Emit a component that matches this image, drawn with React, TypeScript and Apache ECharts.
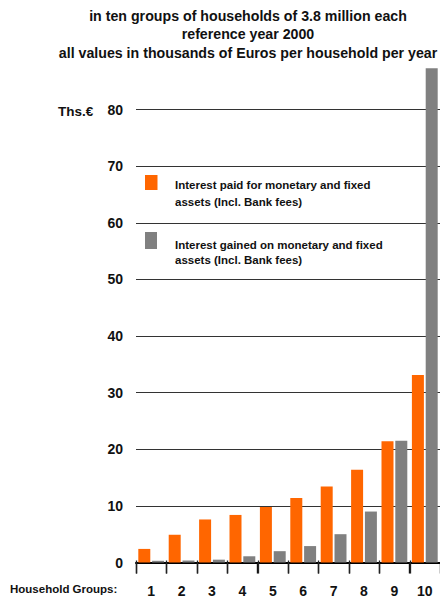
import React, { useEffect, useRef } from "react";
import * as echarts from "echarts";

const titleLines = [
  "in ten groups of households of 3.8 million each",
  "reference year 2000",
  "all values in thousands of Euros per household per year",
];
const groups = ["1", "2", "3", "4", "5", "6", "7", "8", "9", "10"];
const paidName = "Interest paid for monetary and fixed\nassets (Incl. Bank fees)";
const gainedName = "Interest gained on monetary and fixed\nassets (Incl. Bank fees)";
const interestPaid = [2.4, 4.9, 7.6, 8.4, 9.8, 11.4, 13.4, 16.4, 21.4, 33.1];
const interestGained = [0.3, 0.35, 0.5, 1.1, 2.0, 2.9, 5.0, 9.0, 21.5, 87.3];
const yUnit = "Ths.€";
const xAxisName = "Household Groups:";

const FONT = "'Liberation Sans', Arial, sans-serif";
const ORANGE = "#FF6600";
const GRAY = "#808080";

export default function App() {
  const ref = useRef<HTMLDivElement>(null);
  useEffect(() => {
    if (!ref.current) return;
    const chart = echarts.init(ref.current, null, { renderer: "svg" });
    chart.setOption({
      animation: false,
      backgroundColor: "#ffffff",
      textStyle: { fontFamily: FONT },
      title: {
        text: titleLines.join("\n"),
        left: 248,
        top: 6.5,
        padding: 0,
        textAlign: "center",
        textStyle: {
          fontFamily: FONT,
          fontSize: 14.2,
          fontWeight: "bold",
          color: "#111",
          lineHeight: 18.5,
        },
      },
      grid: { left: 136, right: -2, top: 109.5, bottom: 38.5, containLabel: false },
      xAxis: {
        type: "category",
        data: groups,
        boundaryGap: true,
        axisLine: { show: true, onZero: false, lineStyle: { color: "#000", width: 2 } },
        axisTick: {
          show: true,
          inside: false,
          alignWithLabel: false,
          interval: 0,
          length: 11,
          lineStyle: { color: "#111", width: 1.4 },
        },
        axisLabel: {
          margin: 21,
          interval: 0,
          fontFamily: FONT,
          fontSize: 14,
          fontWeight: "bold",
          color: "#111",
        },
        splitLine: { show: false },
      },
      yAxis: {
        type: "value",
        min: 0,
        max: 80,
        interval: 10,
        axisLine: { show: false },
        axisTick: { show: false },
        axisLabel: {
          margin: 13,
          fontFamily: FONT,
          fontSize: 14,
          fontWeight: "bold",
          color: "#111",
        },
        splitLine: { show: true, lineStyle: { color: "#333", width: 1.2 } },
      },
      series: [
        {
          name: paidName,
          type: "bar",
          data: interestPaid,
          barWidth: 12,
          barGap: "15%",
          clip: false,
          itemStyle: { color: ORANGE },
        },
        {
          name: gainedName,
          type: "bar",
          data: interestGained,
          barWidth: 12,
          barGap: "15%",
          clip: false,
          itemStyle: { color: GRAY },
        },
        {
          name: "ticks",
          type: "custom",
          silent: true,
          z: 5,
          clip: false,
          data: groups.map((g, i) => [i, 0]),
          renderItem: (params: any, api: any) => {
            const p = api.coord([api.value(0), 0]);
            const w = api.size([1, 0])[0];
            const x = Math.round(p[0] - w / 2) + 0.5;
            return {
              type: "line",
              shape: { x1: x, y1: p[1] - 2, x2: x, y2: p[1] + 11 },
              style: { stroke: "#222", lineWidth: 1.3 },
            };
          },
        },
      ],
      graphic: [
        {
          type: "text",
          left: 58,
          top: 104,
          style: {
            text: yUnit,
            fontFamily: FONT,
            fontSize: 13.5,
            fontWeight: "bold",
            fill: "#111",
          },
        },
        {
          type: "text",
          left: 10,
          top: 583,
          style: {
            text: xAxisName,
            fontFamily: FONT,
            fontSize: 11.5,
            fontWeight: "bold",
            fill: "#111",
          },
        },
        {
          type: "rect",
          shape: { x: 145, y: 175, width: 12.5, height: 15 },
          style: { fill: ORANGE },
        },
        {
          type: "text",
          x: 175,
          y: 176,
          style: {
            text: paidName,
            fontFamily: FONT,
            fontSize: 11.5,
            fontWeight: "bold",
            fill: "#111",
            lineHeight: 17,
            verticalAlign: "top",
          },
        },
        {
          type: "rect",
          shape: { x: 145, y: 232, width: 12, height: 17 },
          style: { fill: GRAY },
        },
        {
          type: "text",
          x: 175,
          y: 237.5,
          style: {
            text: gainedName,
            fontFamily: FONT,
            fontSize: 11.5,
            fontWeight: "bold",
            fill: "#111",
            lineHeight: 15,
            verticalAlign: "top",
          },
        },
      ],
    });
    return () => chart.dispose();
  }, []);
  return (
    <div
      ref={ref}
      style={{ position: "fixed", left: 0, top: 0, width: 440, height: 601 }}
    />
  );
}
